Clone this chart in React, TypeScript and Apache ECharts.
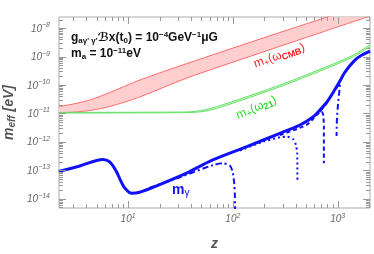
import React, { useEffect, useRef } from "react";
import * as echarts from "echarts";

// ---------- axis ranges (z real, m as log10 of eV) ----------
const Z_MIN = 2.19;
const Z_MAX = 2037;
const LOGM_MIN = -14.32;
const LOGM_MAX = -7.61;

// ---------- red band m+(omega_CMB): z and log10(m) ----------
const RED_Z = [2.18, 3.05, 4.31, 6.68, 12.9, 36.4, 181, 902, 2037];
const RED_LOWER = [-10.972, -10.95, -10.895, -10.754, -10.421, -9.754, -8.877, -8.014, -7.579];
const RED_UPPER = [-10.761, -10.66, -10.526, -10.263, -9.825, -9.246, -8.386, -7.544, -7.123];

// ---------- green band m+(omega_21) ----------
const GREEN_Z = [2.18, 36.1, 54.1, 75.2, 145, 314, 649, 1371, 2037];
const GREEN_LOWER = [-10.984, -10.97, -10.92, -10.784, -10.434, -9.995, -9.539, -9.03, -8.644];
const GREEN_UPPER = [-10.96, -10.946, -10.87, -10.724, -10.374, -9.935, -9.479, -8.97, -8.584];

// ---------- blue solid m_gamma ----------
const BLUE_Z = [2.18, 3.46, 5.73, 6.68, 7.74, 8.51, 9.29, 10.8, 12.9, 18.0, 34.8, 64.4, 136, 281, 437, 581, 678, 791, 923, 1052, 1175, 1462, 1706, 2037];
const BLUE_M = [-13.035, -12.842, -12.614, -12.702, -13.042, -13.368, -13.614, -13.8, -13.765, -13.568, -13.123, -12.632, -12.165, -11.695, -11.404, -11.123, -10.877, -10.596, -10.211, -9.86, -9.544, -9.123, -8.947, -8.807];

// ---------- blue broken curves ----------
const DASH1_Z = [16.1, 31.2, 64.9, 80.7, 93.5, 99.3, 103, 104.5, 105.2];
const DASH1_M = [-13.61, -13.24, -12.81, -12.75, -12.83, -13.04, -13.45, -13.86, -14.56];
const DASH2_Z = [117, 195, 281, 326, 377, 400, 411, 413];
const DASH2_M = [-12.3, -11.99, -11.835, -11.814, -11.905, -12.105, -12.396, -13.393];
const DASH3_Z = [281, 506, 630, 703, 728, 739, 739];
const DASH3_M = [-11.754, -11.4, -11.053, -10.937, -11.053, -11.463, -12.747];
const DASH4_Z = [678, 843, 1007, 1052, 1041, 1007, 984, 977];
const DASH4_M = [-10.947, -10.456, -10.02, -9.93, -10.175, -10.702, -11.228, -11.789];

const FONT = '"Liberation Sans", "DejaVu Sans", Arial, sans-serif';
const L = Math.log10;
const pts = (zs: number[], ms: number[]) => zs.map((z, i) => [L(z), ms[i]]);

function buildTicks() {
  const xmin = L(Z_MIN), xmax = L(Z_MAX);
  const out: number[][] = [];
  for (let n = 0; n <= 3; n++)
    for (let k = 1; k <= 9; k++) {
      const v = n + L(k);
      if (v >= xmin && v <= xmax) out.push([v, 0, k === 1 ? 1 : 0]);
    }
  for (let n = -15; n <= -8; n++)
    for (let k = 1; k <= 9; k++) {
      const v = n + L(k);
      if (v >= LOGM_MIN && v <= LOGM_MAX) out.push([v, 1, k === 1 ? 1 : 0]);
    }
  return out;
}

function buildOption() {
  const xmin = L(Z_MIN), xmax = L(Z_MAX);
  const labRich = {
    b: { fontSize: 10, fontStyle: "italic", color: "#666", fontFamily: FONT, lineHeight: 11 },
    s: { fontSize: 7, fontStyle: "italic", color: "#666", fontFamily: FONT, lineHeight: 8, padding: [0, 0, 7, 0] },
  };
  const isInt = (v: number) => Math.abs(v - Math.round(v)) < 1e-6;
  const blue = "#1010ff";
  const dashLine = (name: string, zs: number[], ms: number[], type: number[]) => ({
    name, type: "line", data: pts(zs, ms), showSymbol: false, smooth: 0.25, z: 5,
    lineStyle: { color: blue, width: 2, type },
  });
  const edge = (name: string, zs: number[], ms: number[], color: string) => ({
    name, type: "line", data: pts(zs, ms), showSymbol: false, smooth: 0.3, z: 3,
    lineStyle: { color, width: 1 },
  });
  const band = (name: string, zs: number[], lo: number[], hi: number[], fill: string) => ({
    name, type: "custom", clip: true, silent: true, z: 1, data: [[xmin, LOGM_MIN]],
    renderItem: (_p: any, api: any) => {
      const up = zs.map((z, i) => api.coord([L(z), hi[i]]));
      const dn = zs.map((z, i) => api.coord([L(z), lo[i]])).reverse();
      return { type: "polygon", shape: { points: up.concat(dn) }, style: { fill } };
    },
  });
  const sub = (size: number, color: string, weight = "normal") => ({ fontSize: size, fontFamily: FONT, fill: color, color, fontWeight: weight, lineHeight: size + 1, padding: [6, 0, 0, 0] });
  const sup = (size: number, color: string, weight = "normal") => ({ fontSize: size, fontFamily: FONT, fill: color, color, fontWeight: weight, lineHeight: size + 1, padding: [0, 0, 6, 0] });
  const nor = (size: number, color: string, weight = "normal") => ({ fontSize: size, fontFamily: FONT, fill: color, color, fontWeight: weight, lineHeight: size + 2 });

  return {
    animation: false,
    grid: { left: 59, top: 17, right: 4, bottom: 46, show: true, borderColor: "#aaa", borderWidth: 1, containLabel: false, outerBoundsMode: "none" },
    xAxis: {
      type: "value", min: xmin, max: xmax, splitNumber: 3,
      axisLine: { show: false }, axisTick: { show: false }, splitLine: { show: false },
      axisLabel: { showMinLabel: false, showMaxLabel: false, margin: 5, formatter: (v: number) => (isInt(v) ? `{b|10}{s|${Math.round(v)}}` : ""), rich: labRich },
      name: "z", nameLocation: "middle", nameGap: 28,
      nameTextStyle: { fontSize: 14, fontStyle: "italic", fontWeight: "bold", color: "#555", fontFamily: FONT },
    },
    yAxis: {
      type: "value", min: LOGM_MIN, max: LOGM_MAX, splitNumber: 7,
      axisLine: { show: false }, axisTick: { show: false }, splitLine: { show: false },
      axisLabel: { showMinLabel: false, showMaxLabel: false, margin: 9, formatter: (v: number) => (isInt(v) ? `{b|10}{s|\u2212${Math.abs(Math.round(v))}}` : ""), rich: labRich },
      name: "{m|m}{e|eff}{t| [eV]}", nameLocation: "middle", nameGap: 36, nameRotate: 90,
      nameTextStyle: {
        rich: {
          m: { fontSize: 14, fontStyle: "italic", fontWeight: "bold", color: "#555", fontFamily: FONT, lineHeight: 16 },
          e: { fontSize: 10, fontStyle: "italic", fontWeight: "bold", color: "#555", fontFamily: FONT, lineHeight: 11, padding: [6, 0, 0, 0] },
          t: { fontSize: 14, fontStyle: "italic", fontWeight: "bold", color: "#555", fontFamily: FONT, lineHeight: 16 },
        },
      },
    },
    series: [
      band("redBand", RED_Z, RED_LOWER, RED_UPPER, "#ffcfcf"),
      edge("redLow", RED_Z, RED_LOWER, "#ff6b6b"),
      edge("redHigh", RED_Z, RED_UPPER, "#ff6b6b"),
      band("greenBand", GREEN_Z, GREEN_LOWER, GREEN_UPPER, "#d4ffd4"),
      edge("greenLow", GREEN_Z, GREEN_LOWER, "#66e066"),
      edge("greenHigh", GREEN_Z, GREEN_UPPER, "#66e066"),
      dashLine("d1", DASH1_Z, DASH1_M, [6, 3, 2, 3]),
      dashLine("d2", DASH2_Z, DASH2_M, [2, 3]),
      dashLine("d3", DASH3_Z, DASH3_M, [4, 3]),
      dashLine("d4", DASH4_Z, DASH4_M, [6, 3, 2, 3]),
      { name: "mgamma", type: "line", data: pts(BLUE_Z, BLUE_M), showSymbol: false, smooth: 0.3, z: 6, lineStyle: { color: blue, width: 3 } },
      {
        name: "ticks", type: "custom", data: buildTicks(), silent: true, z: 10,
        renderItem: (params: any, api: any) => {
          const cs = params.coordSys;
          const v = api.value(0), ax = api.value(1), major = api.value(2);
          const len = major ? 7 : 4;
          const style = { stroke: "#999", lineWidth: 1 };
          if (ax === 0) {
            const px = Math.round(api.coord([v, LOGM_MIN])[0]) + 0.5;
            const b = cs.y + cs.height;
            return { type: "group", children: [
              { type: "line", shape: { x1: px, y1: b, x2: px, y2: b - len }, style },
              { type: "line", shape: { x1: px, y1: cs.y, x2: px, y2: cs.y + len }, style },
            ] };
          }
          const py = Math.round(api.coord([xmin, v])[1]) + 0.5;
          const r = cs.x + cs.width;
          return { type: "group", children: [
            { type: "line", shape: { x1: cs.x, y1: py, x2: cs.x + len, y2: py }, style },
            { type: "line", shape: { x1: r, y1: py, x2: r - len, y2: py }, style },
          ] };
        },
      },
    ],
    graphic: [
      {
        type: "text", x: 71, y: 37, z: 20,
        style: {
          text: "{n|g}{s|a\u03b3' \u03b3'}{n|\u212cx(t}{s|0}{n|) = 10}{p|\u22124}{n|GeV}{p|\u22121}{n|\u03bcG}",
          align: "left", verticalAlign: "middle",
          rich: { n: nor(12, "#111", "bold"), s: sub(8, "#111", "bold"), p: sup(8, "#111", "bold") },
        },
      },
      {
        type: "text", x: 71, y: 53, z: 20,
        style: {
          text: "{n|m}{s|a}{n| = 10}{p|\u221211}{n|eV}",
          align: "left", verticalAlign: "middle",
          rich: { n: nor(12, "#111", "bold"), s: sub(8, "#111", "bold"), p: sup(8, "#111", "bold") },
        },
      },
      {
        type: "text", x: 279, y: 55, rotation: 0.33, z: 20,
        style: {
          text: "{n|m}{s|+}{n|(\u03c9}{b|CMB}{n|)}", x: 0, y: 0,
          align: "center", verticalAlign: "middle",
          rich: { n: nor(12, "#ff2020"), s: sub(9, "#ff2020"), b: sub(9, "#ff2020", "bold") },
        },
      },
      {
        type: "text", x: 256, y: 107, rotation: 0.4, z: 20,
        style: {
          text: "{n|m}{s|+}{n|(\u03c9}{b|21}{n|)}", x: 0, y: 0,
          align: "center", verticalAlign: "middle",
          rich: { n: nor(12, "#22dd22"), s: sub(9, "#22dd22"), b: sub(9, "#22dd22", "bold") },
        },
      },
      {
        type: "text", x: 172, y: 189, z: 20,
        style: {
          text: "{n|m}{s|\u03b3}",
          align: "left", verticalAlign: "middle",
          rich: { n: nor(14, blue, "bold"), s: sub(10, blue) },
        },
      },
    ],
  };
}

export default function App() {
  const ref = useRef<HTMLDivElement>(null);
  useEffect(() => {
    if (!ref.current) return;
    const chart = echarts.init(ref.current, null, { renderer: "svg" });
    chart.setOption(buildOption() as any);
    return () => chart.dispose();
  }, []);
  return <div ref={ref} style={{ position: "fixed", left: 0, top: 0, width: 374, height: 254 }} />;
}
